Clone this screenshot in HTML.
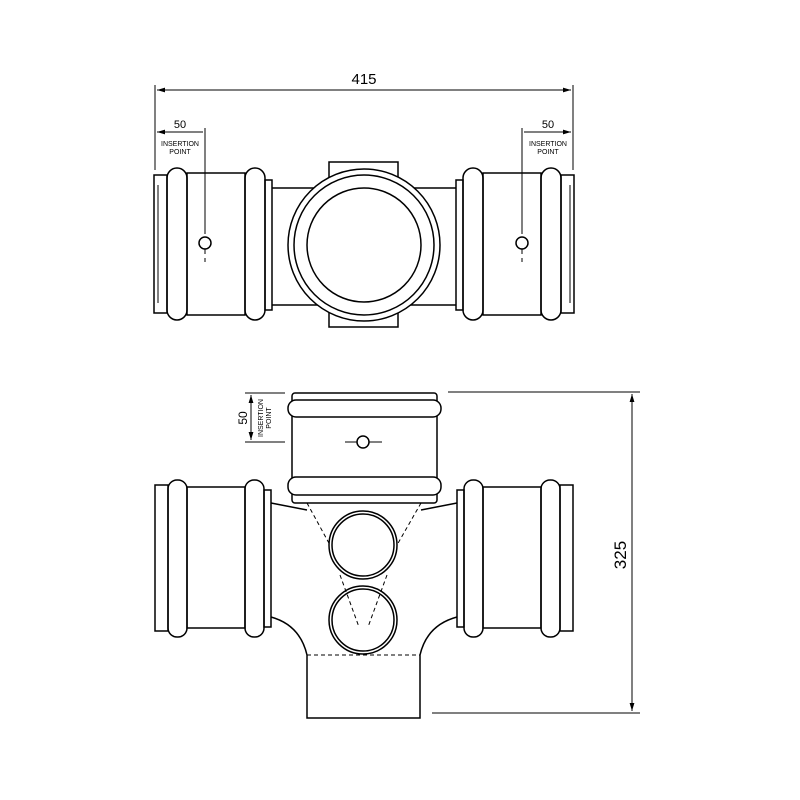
<!DOCTYPE html>
<html><head><meta charset="utf-8"><style>body{margin:0;background:#fff}svg{display:block}</style></head><body>
<svg width="800" height="800" viewBox="0 0 800 800" xmlns="http://www.w3.org/2000/svg" font-family="Liberation Sans, sans-serif" fill="none" stroke="#000" stroke-width="1.5">
<defs>
<marker id="a" viewBox="0 0 10 10" refX="10" refY="5" markerWidth="8" markerHeight="8" orient="auto-start-reverse"><path d="M0,2 L10,5 L0,8 z" fill="#000" stroke="none"/></marker>
<g id="cpl">
<rect x="154" y="175" width="13" height="138"/>
<path d="M158 185 V303" stroke-width="1"/>
<rect x="167" y="168" width="20" height="152" rx="10"/>
<rect x="187" y="173" width="58" height="142"/>
<rect x="245" y="168" width="20" height="152" rx="10"/>
<rect x="265" y="180" width="7" height="130"/>
<path d="M272 188 H330 M272 305 H330"/>
</g>
<g id="cpl2">
<rect x="155" y="485" width="13" height="146"/>
<rect x="168" y="480" width="19" height="157" rx="9"/>
<rect x="187" y="487" width="58" height="141"/>
<rect x="245" y="480" width="19" height="157" rx="9"/>
<rect x="264" y="490" width="7" height="137"/>
</g>
</defs>
<path d="M155 85 V170 M573 85 V170" stroke-width="1"/>
<path d="M157 90 H571" stroke-width="1" marker-start="url(#a)" marker-end="url(#a)"/>
<text x="364" y="84" font-size="15" text-anchor="middle" fill="#000" stroke="none">415</text>
<path d="M157 132 H203 M524 132 H571" stroke-width="1" marker-start="url(#a)" marker-end="url(#a)"/>
<path d="M205 128 V228 M522 128 V228" stroke-width="1"/>
<path d="M205 228 V262 M522 228 V262" stroke-width="1" stroke-dasharray="6,4"/>
<g fill="#000" stroke="none" text-anchor="middle">
<text x="180" y="128" font-size="11">50</text>
<text x="180" y="146" font-size="7">INSERTION</text>
<text x="180" y="154" font-size="7">POINT</text>
<text x="548" y="128" font-size="11">50</text>
<text x="548" y="146" font-size="7">INSERTION</text>
<text x="548" y="154" font-size="7">POINT</text>
</g>
<use href="#cpl"/>
<use href="#cpl" transform="translate(728,0) scale(-1,1)"/>
<rect x="329" y="162" width="69" height="165" fill="#fff"/>
<circle cx="364" cy="245" r="76" fill="#fff"/>
<circle cx="364" cy="245" r="70"/>
<circle cx="364" cy="245" r="57"/>
<circle cx="205" cy="243" r="6" fill="#fff"/>
<circle cx="522" cy="243" r="6" fill="#fff"/>
<path d="M245 393 H285 M245 442 H285 M448 392 H640 M432 713 H640" stroke-width="1"/>
<path d="M251 395 V440" stroke-width="1" marker-start="url(#a)" marker-end="url(#a)"/>
<path d="M632 394 V711" stroke-width="1" marker-start="url(#a)" marker-end="url(#a)"/>
<g fill="#000" stroke="none" text-anchor="middle">
<text transform="translate(247,418) rotate(-90)" font-size="12">50</text>
<text transform="translate(263,418) rotate(-90)" font-size="7">INSERTION</text>
<text transform="translate(271,418) rotate(-90)" font-size="7">POINT</text>
<text transform="translate(626,555) rotate(-90)" font-size="17">325</text>
</g>
<use href="#cpl2"/>
<use href="#cpl2" transform="translate(728,0) scale(-1,1)"/>
<path d="M271 503 L307 510 M457 503 L421 510"/>
<path d="M271 617 Q300 625 307 655 V718 H420 V655 Q427 625 457 617"/>
<path d="M307 655 H420" stroke-width="1" stroke-dasharray="4,3"/>
<rect x="292" y="393" width="145" height="110" rx="3"/>
<rect x="288" y="400" width="153" height="17" rx="8" fill="#fff"/>
<rect x="288" y="477" width="153" height="18" rx="8" fill="#fff"/>
<path d="M307 503 L330 545 M421 503 L397 545 M340 575 L359 627 M387 575 L368 627" stroke-width="1" stroke-dasharray="4,3"/>
<circle cx="363" cy="545" r="34"/><circle cx="363" cy="545" r="31"/>
<circle cx="363" cy="620" r="34"/><circle cx="363" cy="620" r="31"/>
<circle cx="363" cy="442" r="6" fill="#fff"/>
<path d="M345 442 H357 M369 442 H382" stroke-width="1"/>
</svg>
</body></html>
